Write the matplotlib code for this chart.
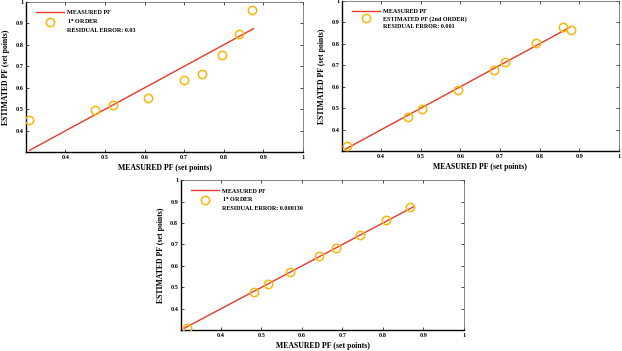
import matplotlib.pyplot as plt
from matplotlib.lines import Line2D

# D A T A ----------------------------------------------------------
measured_line = [0.31, 0.875]

# 1st order (top left)
pf_set_1 = [0.308, 0.475, 0.520, 0.609, 0.700, 0.744, 0.796, 0.839, 0.871]
pf_est_1 = [0.451, 0.496, 0.521, 0.552, 0.637, 0.666, 0.751, 0.849, 0.962]

# 2nd order (top right)
pf_set_2 = [0.315, 0.469, 0.504, 0.594, 0.686, 0.713, 0.792, 0.860, 0.880]
pf_est_2 = [0.326, 0.459, 0.496, 0.584, 0.679, 0.713, 0.804, 0.878, 0.862]

# bottom
pf_set_3 = [0.318, 0.481, 0.516, 0.572, 0.642, 0.684, 0.743, 0.807, 0.868]
pf_est_3 = [0.311, 0.478, 0.514, 0.574, 0.645, 0.683, 0.745, 0.813, 0.874]

labels = ['1$^{st}$ ORDER', 'ESTIMATED PF (2nd ORDER)', '1$^{st}$ ORDER']
residuals = ['RESIDUAL ERROR: 0.03', 'RESIDUAL ERROR: 0.001', 'RESIDUAL ERROR: 0.000130']
ticks = [0.4, 0.5, 0.6, 0.7, 0.8, 0.9, 1]
tick_labels = ['0.4', '0.5', '0.6', '0.7', '0.8', '0.9', '1']

RED = '#e5392b'
YELLOW = '#f7b70d'

plt.rcParams['font.family'] = 'Liberation Serif'
plt.rcParams['font.weight'] = 'bold'
plt.rcParams['mathtext.fontset'] = 'custom'
plt.rcParams['mathtext.rm'] = 'Liberation Serif:bold'
plt.rcParams['mathtext.it'] = 'Liberation Serif:bold'

fig = plt.figure(figsize=(6.22, 3.51), dpi=100)
positions = [
    [0.0426, 0.567, 0.4445, 0.428],
    [0.550, 0.570, 0.445, 0.428],
    [0.291, 0.060, 0.455, 0.427],
]
data = [(pf_set_1, pf_est_1), (pf_set_2, pf_est_2), (pf_set_3, pf_est_3)]

for pos, (xs, ys), lab, res in zip(positions, data, labels, residuals):
    ax = fig.add_axes(pos)
    ax.plot(measured_line, measured_line, color=RED, linewidth=1.0, zorder=2)
    ax.plot(xs, ys, 'o', markerfacecolor='none', markeredgecolor=YELLOW,
            markersize=6, markeredgewidth=1.1, zorder=3)
    ax.set_xlim(0.302, 1.0)
    ax.set_ylim(0.302, 1.0)
    ax.set_xticks(ticks)
    ax.set_yticks(ticks)
    ax.set_xticklabels(tick_labels)
    ax.set_yticklabels(tick_labels)
    ax.tick_params(direction='in', length=2, width=0.5, labelsize=4.5,
                   top=True, right=True, pad=2)
    for side in ['top', 'right']:
        ax.spines[side].set_linewidth(0.5)
        ax.spines[side].set_color('#555555')
    for side in ['left', 'bottom']:
        ax.spines[side].set_linewidth(1.0)
    ax.set_xlabel('MEASURED PF (set points)', fontsize=5.6, fontweight='bold', labelpad=3)
    ax.set_ylabel('ESTIMATED PF (set points)', fontsize=5.6, fontweight='bold', labelpad=4)

    handles = [
        Line2D([], [], color=RED, linewidth=1.0),
        Line2D([], [], linestyle='none', marker='o', markerfacecolor='none',
               markeredgecolor=YELLOW, markersize=6, markeredgewidth=1.1),
        Line2D([], [], linestyle='none'),
    ]
    ax.legend(handles, ['MEASURED PF', lab, res], loc='upper left',
              bbox_to_anchor=(0.036, 0.945), frameon=False, fontsize=4.4,
              handlelength=4.5, handletextpad=0.5, labelspacing=0.3,
              borderaxespad=0, borderpad=0)

fig.savefig('out.png', dpi=100)
